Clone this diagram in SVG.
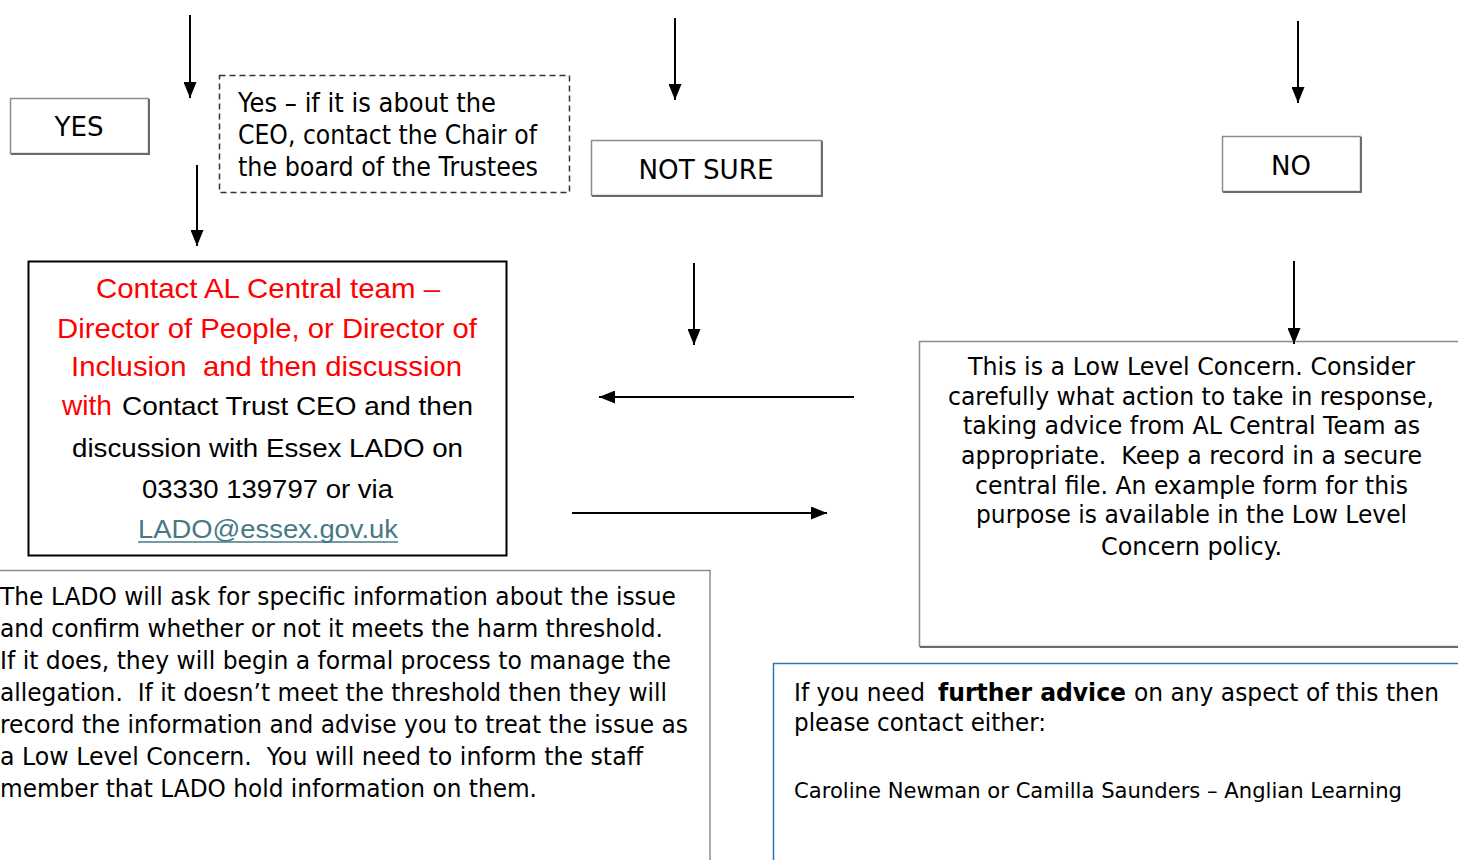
<svg xmlns="http://www.w3.org/2000/svg" width="1458" height="860" viewBox="0 0 1458 860">
<style>
text{white-space:pre}
.t{font-family:"DejaVu Sans","Liberation Sans",sans-serif;fill:#000}
.n{font-family:"Liberation Sans","DejaVu Sans",sans-serif}
.red{fill:#ff0000}
.blk{fill:#000}
.box{fill:#fff;stroke:#8c8c8c;stroke-width:1.5}
.shadow{fill:none;stroke:#6b6b6b;stroke-width:2}
.conn line{stroke:#000;stroke-width:2;marker-end:url(#ah)}
</style>
<defs>
<marker id="ah" viewBox="0 0 16 13" refX="16" refY="6.5" markerWidth="16" markerHeight="13" orient="auto" markerUnits="userSpaceOnUse">
<path d="M0,0 L16,6.5 L0,13 z" fill="#000"/>
</marker>
</defs>
<rect width="1458" height="860" fill="#fff"/>

<g id="yes">
<rect class="box" x="10.5" y="98.5" width="138" height="55"/>
<path class="shadow" d="M149,99 V154 H11"/>
<text class="t" x="79" y="136" font-size="26" text-anchor="middle" textLength="49" lengthAdjust="spacingAndGlyphs">YES</text>
</g>

<g id="ceo-note">
<rect x="219.5" y="75.5" width="350" height="117" fill="#fff" stroke="#333" stroke-width="1.5" stroke-dasharray="6,4"/>
<text class="t" x="238" y="112" font-size="26" textLength="258" lengthAdjust="spacingAndGlyphs">Yes – if it is about the</text>
<text class="t" x="238" y="144" font-size="26" textLength="299" lengthAdjust="spacingAndGlyphs">CEO, contact the Chair of</text>
<text class="t" x="238" y="176" font-size="26" textLength="300" lengthAdjust="spacingAndGlyphs">the board of the Trustees</text>
</g>

<g id="not-sure">
<rect class="box" x="591.5" y="140.5" width="230" height="55"/>
<path class="shadow" d="M822,141 V196 H592"/>
<text class="t" x="706" y="179" font-size="26" text-anchor="middle" textLength="135" lengthAdjust="spacingAndGlyphs">NOT SURE</text>
</g>

<g id="no">
<rect class="box" x="1222.5" y="136.5" width="138" height="55"/>
<path class="shadow" d="M1361,137 V192 H1223"/>
<text class="t" x="1291" y="175" font-size="26" text-anchor="middle" textLength="40" lengthAdjust="spacingAndGlyphs">NO</text>
</g>

<g id="contact-central">
<rect x="28.5" y="261.5" width="478" height="294" fill="#fff" stroke="#000" stroke-width="2"/>
<text class="n red" x="96" y="298" font-size="28" textLength="344" lengthAdjust="spacingAndGlyphs">Contact AL Central team –</text>
<text class="n red" x="57" y="338" font-size="28" textLength="420" lengthAdjust="spacingAndGlyphs">Director of People, or Director of</text>
<text class="n red" x="71" y="376" font-size="28" textLength="391" lengthAdjust="spacingAndGlyphs">Inclusion  and then discussion</text>
<text class="n red" x="62" y="415" font-size="28" textLength="50" lengthAdjust="spacingAndGlyphs">with</text>
<text class="n blk" x="122" y="415" font-size="26" textLength="351" lengthAdjust="spacingAndGlyphs">Contact Trust CEO and then</text>
<text class="n blk" x="72" y="457" font-size="26" textLength="391" lengthAdjust="spacingAndGlyphs">discussion with Essex LADO on</text>
<text class="n blk" x="142" y="498" font-size="26" textLength="251" lengthAdjust="spacingAndGlyphs">03330 139797 or via</text>
<text class="n" x="138" y="538" font-size="26" fill="#467886" textLength="260" lengthAdjust="spacingAndGlyphs">LADO@essex.gov.uk</text>
<line x1="138" y1="542" x2="398" y2="542" stroke="#467886" stroke-width="1.5"/>
</g>

<g id="low-level">
<rect class="box" x="919.5" y="341.5" width="560" height="305"/>
<path class="shadow" d="M920,647 H1458"/>
<g class="t" font-size="24" text-anchor="middle">
<text x="1191.5" y="375" textLength="447" lengthAdjust="spacingAndGlyphs">This is a Low Level Concern. Consider</text>
<text x="1191" y="405" textLength="486" lengthAdjust="spacingAndGlyphs">carefully what action to take in response,</text>
<text x="1191.5" y="434" textLength="457" lengthAdjust="spacingAndGlyphs">taking advice from AL Central Team as</text>
<text x="1191.5" y="464" textLength="461" lengthAdjust="spacingAndGlyphs">appropriate.  Keep a record in a secure</text>
<text x="1191.5" y="494" textLength="433" lengthAdjust="spacingAndGlyphs">central file. An example form for this</text>
<text x="1191.5" y="523" textLength="431" lengthAdjust="spacingAndGlyphs">purpose is available in the Low Level</text>
<text x="1191.5" y="555" textLength="181" lengthAdjust="spacingAndGlyphs">Concern policy.</text>
</g>
</g>

<g id="lado-info">
<rect class="box" x="-5" y="570.5" width="715" height="300"/>
<g class="t" font-size="25">
<text x="0" y="605" textLength="676" lengthAdjust="spacingAndGlyphs">The LADO will ask for specific information about the issue</text>
<text x="0" y="637" textLength="663" lengthAdjust="spacingAndGlyphs">and confirm whether or not it meets the harm threshold.</text>
<text x="0" y="669" textLength="671" lengthAdjust="spacingAndGlyphs">If it does, they will begin a formal process to manage the</text>
<text x="0" y="701" textLength="667" lengthAdjust="spacingAndGlyphs">allegation.  If it doesn’t meet the threshold then they will</text>
<text x="0" y="733" textLength="688" lengthAdjust="spacingAndGlyphs">record the information and advise you to treat the issue as</text>
<text x="0" y="765" textLength="643" lengthAdjust="spacingAndGlyphs">a Low Level Concern.  You will need to inform the staff</text>
<text x="0" y="797" textLength="537" lengthAdjust="spacingAndGlyphs">member that LADO hold information on them.</text>
</g>
</g>

<g id="further-advice">
<rect x="773.5" y="663.5" width="700" height="210" fill="#fff" stroke="#2e75b6" stroke-width="1.5"/>
<g class="t" font-size="25">
<text x="794" y="701" textLength="131" lengthAdjust="spacingAndGlyphs">If you need</text>
<text x="938" y="701" font-weight="bold" textLength="188" lengthAdjust="spacingAndGlyphs">further advice</text>
<text x="1134" y="701" textLength="305" lengthAdjust="spacingAndGlyphs">on any aspect of this then</text>
<text x="794" y="731" textLength="252" lengthAdjust="spacingAndGlyphs">please contact either:</text>
<text x="794" y="798" font-size="22" textLength="608" lengthAdjust="spacingAndGlyphs">Caroline Newman or Camilla Saunders – Anglian Learning</text>
</g>
</g>

<g id="connectors" class="conn">
<line x1="190" y1="15" x2="190" y2="98"/>
<line x1="197" y1="165" x2="197" y2="246"/>
<line x1="675" y1="18" x2="675" y2="100"/>
<line x1="1298" y1="21" x2="1298" y2="103"/>
<line x1="694" y1="263" x2="694" y2="345"/>
<line x1="1294" y1="261" x2="1294" y2="344"/>
<line x1="854" y1="397" x2="599" y2="397"/>
<line x1="572" y1="513" x2="827" y2="513"/>
</g>
</svg>
